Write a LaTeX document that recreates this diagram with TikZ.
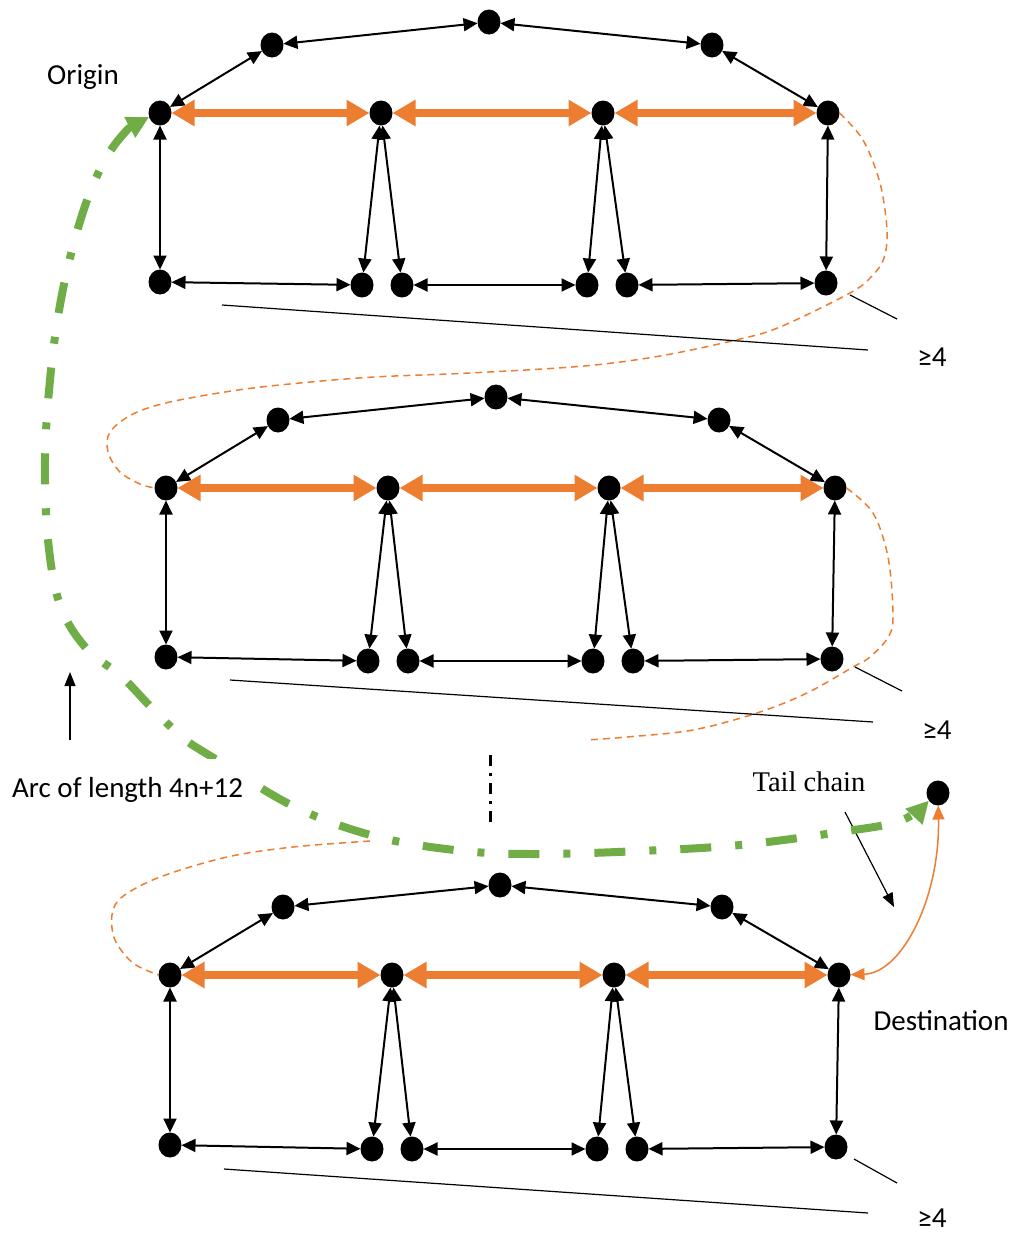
\documentclass[tikz,border=0pt]{standalone}
\usepackage{fontspec}
\setmainfont{Carlito}
\newfontfamily\serifface{Liberation Serif}
\usetikzlibrary{arrows.meta,shapes.geometric}
\definecolor{linkorange}{HTML}{ED7D31}
\definecolor{arcgreen}{HTML}{70AD47}

\begin{document}
\begin{tikzpicture}[x=1pt,y=-1pt,
  vtx/.style={ellipse,fill=black,inner sep=0pt,outer sep=0pt,minimum width=23pt,minimum height=25pt},
  link/.style={line width=2pt,{Triangle[length=14pt,width=13pt]}-{Triangle[length=14pt,width=13pt]}},
  heavy/.style={linkorange,line width=7.5pt,{Triangle[length=23pt,width=25pt]}-{Triangle[length=23pt,width=25pt]}},
  hop/.style={linkorange,line width=1.5pt,dash pattern=on 7pt off 5pt},
  leader/.style={line width=1.2pt},
  lbl/.style={font=\fontsize{29}{33}\selectfont,inner sep=0pt},
]
\useasboundingbox (0,0) rectangle (1014,1235);

% ---- first gadget ----
\node[vtx] (ta)  at (489,22)  {};
\node[vtx] (ula) at (272,45)  {};
\node[vtx] (ura) at (712,45)  {};
\node[vtx] (m1a) at (160,113) {};
\node[vtx] (m2a) at (381,113) {};
\node[vtx] (m3a) at (603,113) {};
\node[vtx] (m4a) at (828,113) {};
\node[vtx] (b1a) at (160,282) {};
\node[vtx] (b2a) at (362,285) {};
\node[vtx] (b3a) at (402,285) {};
\node[vtx] (b4a) at (587,285) {};
\node[vtx] (b5a) at (627,285) {};
\node[vtx] (b6a) at (826,283) {};

% ---- second gadget ----
\node[vtx] (tb)  at (496,397) {};
\node[vtx] (ulb) at (278,420) {};
\node[vtx] (urb) at (719,420) {};
\node[vtx] (m1b) at (166,488) {};
\node[vtx] (m2b) at (388,488) {};
\node[vtx] (m3b) at (609,488) {};
\node[vtx] (m4b) at (835,488) {};
\node[vtx] (b1b) at (166,657) {};
\node[vtx] (b2b) at (368,661) {};
\node[vtx] (b3b) at (408,661) {};
\node[vtx] (b4b) at (593,661) {};
\node[vtx] (b5b) at (633,661) {};
\node[vtx] (b6b) at (832,659) {};

% ---- last gadget ----
\node[vtx] (tc)  at (500,885) {};
\node[vtx] (ulc) at (283,907) {};
\node[vtx] (urc) at (722,907) {};
\node[vtx] (m1c) at (170,975) {};
\node[vtx] (m2c) at (392,975) {};
\node[vtx] (m3c) at (614,975) {};
\node[vtx] (m4c) at (839,975) {};
\node[vtx] (b1c) at (170,1145) {};
\node[vtx] (b2c) at (372,1149) {};
\node[vtx] (b3c) at (412,1149) {};
\node[vtx] (b4c) at (597,1149) {};
\node[vtx] (b5c) at (637,1149) {};
\node[vtx] (b6c) at (836,1147) {};

% tail vertex
\node[vtx] (tail) at (938,793) {};

% edges inside each gadget
\foreach \s in {a,b,c}{
  \draw[link] (ul\s) -- (m1\s);
  \draw[link] (ul\s) -- (t\s);
  \draw[link] (t\s) -- (ur\s);
  \draw[link] (ur\s) -- (m4\s);
  \draw[link] (m1\s) -- (b1\s);
  \draw[link] (m2\s) -- (b2\s);
  \draw[link] (m2\s) -- (b3\s);
  \draw[link] (m3\s) -- (b4\s);
  \draw[link] (m3\s) -- (b5\s);
  \draw[link] (m4\s) -- (b6\s);
  \draw[link] (b1\s) -- (b2\s);
  \draw[link] (b3\s) -- (b4\s);
  \draw[link] (b5\s) -- (b6\s);
  \draw[heavy] (m1\s) -- (m2\s);
  \draw[heavy] (m2\s) -- (m3\s);
  \draw[heavy] (m3\s) -- (m4\s);
}

% dashed hops between gadgets
\draw[hop] plot[smooth,tension=0.55] coordinates {(m4a.east) (863,140) (880,183) (887,230) (884,258) (872,276) (850,293) (780,327) (736,340) (660,356) (584,366) (470,373) (374,377) (300,383) (238,390) (170,402) (133,414) (110,432) (108,452) (120,472) (140,484) (m1b.west)};
\draw[hop] plot[smooth,tension=0.55] coordinates {(m4b.east) (873,513) (888,557) (893,613) (889,636) (870,657) (853,667) (807,693) (757,713) (693,730) (627,737) (587,740)};
\draw[hop] plot[smooth,tension=0.55] coordinates {(370,841) (293,847) (227,857) (160,877) (122,897) (112,915) (115,940) (133,963) (m1c.west)};

% tail chain link
\draw[linkorange,line width=1.5pt,{Triangle[length=14pt,width=12pt]}-{Triangle[length=14pt,width=12pt]}]
  (m4c) .. controls (902,973) and (940,898) .. (tail);

% length markers
\coordinate (la1) at (222,305);  \coordinate (la2) at (868,350);
\coordinate (sa1) at (850,295);  \coordinate (sa2) at (897,319);
\coordinate (lb1) at (230,680);  \coordinate (lb2) at (873,722);
\coordinate (sb1) at (855,667);  \coordinate (sb2) at (902,691);
\coordinate (lc1) at (224,1169); \coordinate (lc2) at (868,1213);
\coordinate (sc1) at (854,1159); \coordinate (sc2) at (897,1183);
\draw[leader] (la1) -- (la2);
\draw[leader] (sa1) -- (sa2);
\draw[leader] (lb1) -- (lb2);
\draw[leader] (sb1) -- (sb2);
\draw[leader] (lc1) -- (lc2);
\draw[leader] (sc1) -- (sc2);

% vertical ellipsis between gadgets
\coordinate (el1) at (490,755); \coordinate (el2) at (490,825);
\draw[line width=3pt,dash pattern=on 11pt off 7pt on 3pt off 7pt] (el1) -- (el2);

% pointer arrows
\coordinate (up1) at (70,740); \coordinate (up2) at (70,672);
\draw[leader,-{Triangle[length=14pt,width=11pt]}] (up1) -- (up2);
\coordinate (tc1) at (845,812); \coordinate (tc2) at (894,907);
\draw[leader,-{Triangle[length=14pt,width=11pt]}] (tc1) -- (tc2);

% long arc from origin to the tail vertex
\draw[arcgreen,line width=8pt,dash pattern=on 31pt off 24pt on 7pt off 24pt,
  {Triangle[length=22pt,width=22pt]}-{Triangle[length=22pt,width=22pt]}]
  plot[smooth,tension=0.6] coordinates {(m1a.200) (120,138) (96,178) (76,235) (60,305) (50,380) (45,460) (48,540) (60,605) (86,648) (121,676) (150,706) (182,737) (212,757) (295,807) (378,837) (464,851) (540,854) (640,851) (740,845) (840,832) (900,821) (tail.220)};

% labels
\node[lbl] (origin) at (83,77) {Origin};
\node[lbl,anchor=west,fill=white,minimum height=62pt,inner xsep=4pt] (arclbl) at (8,790) {Arc of length 4n+12};
\node[lbl,font=\serifface\fontsize{28.5}{33}\selectfont] (taillbl) at (809,782) {Tail chain};
\node[lbl] (dest) at (941,1021) {Destination};
\node[lbl] (ge1) at (932,357) {≥4};
\node[lbl] (ge2) at (937,730) {≥4};
\node[lbl] (ge3) at (932,1218) {≥4};
\end{tikzpicture}
\end{document}
